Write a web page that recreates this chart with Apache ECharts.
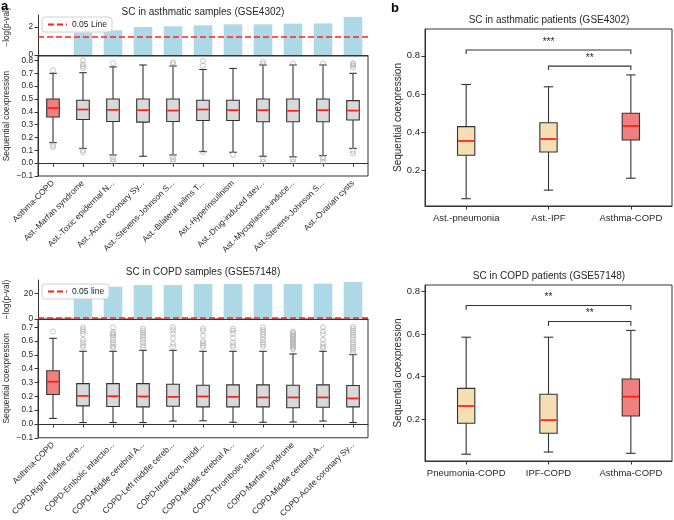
<!DOCTYPE html>
<html><head><meta charset="utf-8">
<script src="https://cdn.jsdelivr.net/npm/echarts@6/dist/echarts.min.js"></script>
<style>html,body{margin:0;padding:0;background:#fff}#c{width:674px;height:520px}</style>
</head><body><div id="c"></div>
<script>
// ---------- data ----------
const catsA1 = ['Asthma-COPD','Ast.-Marfan syndrome','Ast.-Toxic epidermal N...','Ast.-Acute coronary Sy...','Ast.-Stevens-Johnson S...','Ast.-Bilateral wilms T...','Ast.-Hyperinsulinism','Ast.-Drug-induced stev...','Ast.-Mycoplasma-induce...','Ast.-Stevens-Johnson S...','Ast.-Ovarian cysts'];
const pvalA1 = [null, 1.60, 1.76, 2.00, 2.05, 2.12, 2.19, 2.19, 2.24, 2.26, 2.73];
// [min, Q1, median, Q3, max]
const boxA1 = [
  [0.160,0.360,0.430,0.500,0.700],
  [0.115,0.340,0.418,0.490,0.705],
  [0.064,0.325,0.415,0.500,0.750],
  [0.054,0.320,0.413,0.500,0.765],
  [0.064,0.325,0.410,0.500,0.757],
  [0.090,0.333,0.418,0.490,0.730],
  [0.085,0.333,0.413,0.490,0.738],
  [0.054,0.323,0.413,0.500,0.765],
  [0.049,0.323,0.408,0.500,0.765],
  [0.059,0.323,0.413,0.500,0.765],
  [0.115,0.336,0.410,0.487,0.700]
];
const outA1 = [
  [0,0.725],[0,0.140],[0,0.125],
  [1,0.800],[1,0.770],[1,0.755],[1,0.740],[1,0.100],[1,0.085],
  [2,0.780],[2,0.050],[2,0.030],[2,0.010],
  [4,0.787],[4,0.772],[4,0.050],[4,0.030],[4,0.010],
  [5,0.797],[5,0.760],[5,0.085],
  [6,0.065],
  [7,0.790],[7,0.775],[7,0.030],[7,0.010],
  [8,0.777],[8,0.030],[8,0.010],
  [9,0.777],[9,0.045],[9,0.035],[9,0.010],
  [10,0.780],[10,0.770],[10,0.760],[10,0.745],[10,0.095],[10,0.075]
];

const catsA2 = ['Asthma-COPD','COPD-Right middle cere...','COPD-Embolic infarctio...','COPD-Middle cerebral A...','COPD-Left middle cereb...','COPD-Infarction, middl...','COPD-Middle cerebral A...','COPD-Thrombotic infarc...','COPD-Marfan syndrome','COPD-Middle cerebral A...','COPD-Acute coronary Sy...'];
const pvalA2 = [null, 25.5, 25.5, 26.8, 26.8, 27.6, 27.6, 27.6, 27.6, 27.9, 29.2];
const boxA2 = [
  [0.040,0.213,0.306,0.385,0.620],
  [0.010,0.131,0.203,0.292,0.526],
  [0.010,0.126,0.201,0.292,0.526],
  [0.010,0.124,0.199,0.292,0.533],
  [0.021,0.128,0.196,0.287,0.533],
  [0.023,0.124,0.199,0.280,0.526],
  [0.012,0.124,0.196,0.283,0.526],
  [0.012,0.124,0.192,0.283,0.526],
  [0.014,0.117,0.192,0.280,0.507],
  [0.021,0.121,0.192,0.283,0.526],
  [0.010,0.124,0.185,0.278,0.502]
];
const outA2 = [
  [0,0.670],
  [1,0.700],[1,0.685],[1,0.670],[1,0.650],[1,0.610],[1,0.590],[1,0.570],[1,0.555],
  [2,0.700],[2,0.665],[2,0.655],[2,0.645],[2,0.630],[2,0.610],[2,0.590],[2,0.575],[2,0.560],[2,0.550],
  [3,0.690],[3,0.675],[3,0.660],[3,0.645],[3,0.630],[3,0.610],[3,0.590],[3,0.570],[3,0.555],
  [4,0.700],[4,0.680],[4,0.655],[4,0.620],[4,0.580],[4,0.560],
  [5,0.690],[5,0.675],[5,0.640],[5,0.600],[5,0.585],[5,0.570],[5,0.555],
  [6,0.690],[6,0.675],[6,0.655],[6,0.620],[6,0.590],[6,0.570],[6,0.555],
  [7,0.700],[7,0.680],[7,0.665],[7,0.650],[7,0.630],[7,0.610],[7,0.590],[7,0.575],[7,0.560],
  [8,0.670],[8,0.660],[8,0.650],[8,0.640],[8,0.630],[8,0.620],[8,0.610],[8,0.600],[8,0.590],[8,0.580],[8,0.570],[8,0.560],[8,0.550],[8,0.540],
  [9,0.700],[9,0.670],[9,0.650],[9,0.610],[9,0.580],[9,0.560],[9,0.550],
  [10,0.705],[10,0.690],[10,0.675],[10,0.660],[10,0.645],[10,0.630],[10,0.610],[10,0.590],[10,0.575],[10,0.560],[10,0.545],[10,0.530],[10,0.515]
];

const catsB1 = ['Ast.-pneumonia','Ast.-IPF','Asthma-COPD'];
const boxB1 = [
  [0.053,0.280,0.355,0.430,0.650],
  [0.098,0.297,0.365,0.450,0.638],
  [0.160,0.360,0.433,0.500,0.700]
];
const sigB1 = [[0,2,0.830],[1,2,0.746]];
const sigB1Text = ['***','**'];

const catsB2 = ['Pneumonia-COPD','IPF-COPD','Asthma-COPD'];
const boxB2 = [
  [0.036,0.181,0.262,0.345,0.585],
  [0.046,0.134,0.196,0.317,0.585],
  [0.040,0.215,0.306,0.389,0.617]
];
const sigB2 = [[0,2,0.734],[1,2,0.659]];
const sigB2Text = ['**','**'];

const sigLevel = 1.3; // -log10(0.05)

const ticksA1bar = [0, 2];
const ticksA1box = [-0.1,0.0,0.1,0.2,0.3,0.4,0.5,0.6,0.7,0.8];
const ticksA2bar = [0, 20];
const ticksA2box = [-0.1,0.0,0.1,0.2,0.3,0.4,0.5,0.6,0.7];
const ticksB = [0.2,0.4,0.6,0.8];

// ---------- style ----------
const FONT = 'Liberation Sans, Arial, Helvetica, sans-serif';
const INK = '#262626';
const EDGE = '#333333';
const FSA = 8.3;   // panel a small text
const FSB = 9.5;   // panel b small text

function boxRender(cats, otherFill, widthRatio, capRatio) {
  return function (params, api) {
    const i = api.value(0);
    const pMin = api.coord([i, api.value(1)]);
    const pQ1 = api.coord([i, api.value(2)]);
    const pMed = api.coord([i, api.value(3)]);
    const pQ3 = api.coord([i, api.value(4)]);
    const pMax = api.coord([i, api.value(5)]);
    const band = api.size([1, 0])[0];
    const bw = band * widthRatio, cw = bw * capRatio;
    const x = pMed[0];
    const st = { stroke: EDGE, lineWidth: 1.1 };
    const fill = cats[i] === 'Asthma-COPD' ? '#f08080' : otherFill;
    return { type: 'group', children: [
      { type: 'line', shape: { x1: x, y1: pQ1[1], x2: x, y2: pMin[1] }, style: st },
      { type: 'line', shape: { x1: x, y1: pQ3[1], x2: x, y2: pMax[1] }, style: st },
      { type: 'line', shape: { x1: x - cw / 2, y1: pMin[1], x2: x + cw / 2, y2: pMin[1] }, style: st },
      { type: 'line', shape: { x1: x - cw / 2, y1: pMax[1], x2: x + cw / 2, y2: pMax[1] }, style: st },
      { type: 'rect', shape: { x: x - bw / 2, y: pQ3[1], width: bw, height: pQ1[1] - pQ3[1] }, style: { fill: fill, stroke: EDGE, lineWidth: 1.1 } },
      { type: 'line', shape: { x1: x - bw / 2 + 0.6, y1: pMed[1], x2: x + bw / 2 - 0.6, y2: pMed[1] }, style: { stroke: '#ff1a1a', lineWidth: 1.7 } }
    ]};
  };
}

function bracketRender(texts, drop) {
  return function (params, api) {
    const y = api.value(2);
    const a = api.coord([api.value(0), y]);
    const b = api.coord([api.value(1), y]);
    const a2 = api.coord([api.value(0), y - drop]);
    const b2 = api.coord([api.value(1), y - drop]);
    return { type: 'group', children: [
      { type: 'polyline', shape: { points: [a2, a, b, b2] }, style: { stroke: EDGE, lineWidth: 1.1, fill: null } },
      { type: 'text', x: (a[0] + b[0]) / 2, y: a[1] - 3, style: { text: texts[params.dataIndex], fill: INK, font: '10px ' + FONT, textAlign: 'center', textVerticalAlign: 'bottom' } }
    ]};
  };
}

function boxData(arr) { return arr.map((b, i) => [i].concat(b)); }

const grids = [
  { left: 38, top: 15, width: 330, height: 40 },
  { left: 38, top: 56, width: 330, height: 120, show: true, borderColor: EDGE, borderWidth: 1 },
  { left: 38, top: 280, width: 330, height: 39 },
  { left: 38, top: 319, width: 330, height: 123, show: true, borderColor: EDGE, borderWidth: 1 },
  { left: 425, top: 29, width: 247, height: 177, show: true, borderColor: EDGE, borderWidth: 1 },
  { left: 425, top: 285, width: 247, height: 176, show: true, borderColor: EDGE, borderWidth: 1 }
];

function lbl(fs) { return { color: INK, fontSize: fs, fontFamily: FONT }; }
const tick = { show: true, inside: false, length: 3.5, lineStyle: { color: EDGE, width: 1 } };

function catAxis(gi, cats, opts) {
  return Object.assign({
    type: 'category', gridIndex: gi, data: cats,
    axisLine: { show: true, lineStyle: { color: EDGE, width: 1 } },
    axisTick: Object.assign({ alignWithLabel: true }, tick),
    axisLabel: Object.assign({ interval: 0 }, lbl(FSB)),
    splitLine: { show: false }
  }, opts || {});
}
function valAxis(gi, min, max, ticks, name, gap, fs, nfs, shift) {
  return {
    type: 'value', gridIndex: gi, min: min, max: max,
    name: name, nameLocation: 'middle', nameGap: gap,
    nameTextStyle: { color: INK, fontSize: nfs, fontFamily: FONT, padding: shift ? [0, 0, 0, shift] : 0 },
    axisLine: { show: true, lineStyle: { color: EDGE, width: 1 } },
    axisTick: Object.assign({ customValues: ticks }, tick),
    axisLabel: Object.assign({ customValues: ticks, margin: 5,
      formatter: v => (Math.abs(v) < 1e-9 ? (ticks.length > 3 ? '0.0' : '0') : (Number.isInteger(v) ? String(v) : v.toFixed(1).replace('-', '\u2212'))) }, lbl(fs)),
    splitLine: { show: false }
  };
}

const xAxes = [
  catAxis(0, catsA1, { axisTick: { show: false }, axisLabel: { show: false } }),
  catAxis(1, catsA1, { axisLabel: Object.assign({ interval: 0, rotate: 45, margin: 6 }, lbl(FSA)) }),
  catAxis(2, catsA2, { axisTick: { show: false }, axisLabel: { show: false } }),
  catAxis(3, catsA2, { axisLabel: Object.assign({ interval: 0, rotate: 45, margin: 6 }, lbl(FSA)) }),
  catAxis(4, catsB1, { axisLabel: Object.assign({ interval: 0, margin: 7 }, lbl(FSB)) }),
  catAxis(5, catsB2, { axisLabel: Object.assign({ interval: 0, margin: 7 }, lbl(FSB)) })
];
const yAxes = [
  valAxis(0, 0, 2.857, ticksA1bar, '\u2212log(p-val)', 27, FSA, 8.3, 16),
  valAxis(1, -0.1, 0.835, ticksA1box, 'Sequential coexpression', 27, FSA, 8.3, 0),
  valAxis(2, 0, 30.8, ticksA2bar, '\u2212log(p-val)', 27, FSA, 8.3, 0),
  valAxis(3, -0.1, 0.76, ticksA2box, 'Sequential coexpression', 27, FSA, 8.3, 0),
  valAxis(4, 0.015, 0.94, ticksB, 'Sequential coexpression', 22, FSB, 10, 0),
  valAxis(5, 0.004, 0.83, ticksB, 'Sequential coexpression', 22, FSB, 10, 0)
];

function sigLine(name, xi) {
  return {
    type: 'line', name: name, xAxisIndex: xi, yAxisIndex: xi, data: [], symbol: 'none', z: 5,
    lineStyle: { color: '#ff2020', width: 1.5, type: [6, 3] }, itemStyle: { color: '#ff2020' },
    markLine: { silent: true, symbol: ['none', 'none'], label: { show: false },
      lineStyle: { color: '#ff2020', width: 1.5, type: [6, 3] }, data: [{ yAxis: sigLevel }] }
  };
}
function outliers(data, xi) {
  return { type: 'scatter', xAxisIndex: xi, yAxisIndex: xi, data: data, symbol: 'circle', symbolSize: 5, z: 3,
    itemStyle: { color: 'rgba(255,255,255,0)', borderColor: '#a8a8a8', borderWidth: 0.8 } };
}
function boxSeries(arr, xi, cats, fill, wr, cr) {
  return { type: 'custom', xAxisIndex: xi, yAxisIndex: xi, data: boxData(arr),
    encode: { x: 0, y: [1, 2, 3, 4, 5] }, renderItem: boxRender(cats, fill, wr, cr), z: 2 };
}
function bracketSeries(arr, texts, xi) {
  return { type: 'custom', xAxisIndex: xi, yAxisIndex: xi, data: arr,
    encode: { x: [0, 1], y: 2 }, renderItem: bracketRender(texts, 0.02), z: 4 };
}

const legendBase = {
  orient: 'horizontal', itemWidth: 19, itemHeight: 8, itemGap: 4,
  itemStyle: { opacity: 0 },
  textStyle: { color: INK, fontSize: 8.5, fontFamily: FONT },
  padding: [3, 5, 3, 5], borderColor: '#d0d0d0', borderWidth: 1, borderRadius: 3,
  backgroundColor: 'rgba(255,255,255,0.85)'
};

const titleStyle = { color: INK, fontSize: 10, fontWeight: 'normal', fontFamily: FONT };
const option = {
  animation: false,
  backgroundColor: '#fff',
  title: [
    { text: 'SC in asthmatic samples (GSE4302)', left: 203, top: 7, textAlign: 'center', padding: 0, textStyle: titleStyle },
    { text: 'SC in COPD samples (GSE57148)', left: 203, top: 267, textAlign: 'center', padding: 0, textStyle: titleStyle },
    { text: 'SC in asthmatic patients (GSE4302)', left: 549, top: 15, textAlign: 'center', padding: 0, textStyle: titleStyle },
    { text: 'SC in COPD patients (GSE57148)', left: 549, top: 271, textAlign: 'center', padding: 0, textStyle: titleStyle },
    { text: 'a', left: 1, top: 0, padding: 0, textStyle: { color: '#000', fontSize: 13, fontWeight: 'bold', fontFamily: FONT } },
    { text: 'b', left: 391, top: 2, padding: 0, textStyle: { color: '#000', fontSize: 13, fontWeight: 'bold', fontFamily: FONT } }
  ],
  legend: [
    Object.assign({ data: ['0.05 Line'], left: 42, top: 17 }, legendBase),
    Object.assign({ data: ['0.05 line'], left: 42, top: 284 }, legendBase)
  ],
  grid: grids,
  xAxis: xAxes,
  yAxis: yAxes,
  series: [
    { type: 'bar', xAxisIndex: 0, yAxisIndex: 0, data: pvalA1, barWidth: '62%', itemStyle: { color: '#add8e6' }, z: 2 },
    sigLine('0.05 Line', 0),
    boxSeries(boxA1, 1, catsA1, '#d9d9d9', 0.42, 0.6),
    outliers(outA1, 1),
    { type: 'bar', xAxisIndex: 2, yAxisIndex: 2, data: pvalA2, barWidth: '62%', itemStyle: { color: '#add8e6' }, z: 2 },
    sigLine('0.05 line', 2),
    boxSeries(boxA2, 3, catsA2, '#d9d9d9', 0.42, 0.6),
    outliers(outA2, 3),
    boxSeries(boxB1, 4, catsB1, '#f5deb3', 0.21, 0.55),
    bracketSeries(sigB1, sigB1Text, 4),
    boxSeries(boxB2, 5, catsB2, '#f5deb3', 0.21, 0.55),
    bracketSeries(sigB2, sigB2Text, 5)
  ]
};

const chart = echarts.init(document.getElementById('c'), null, { renderer: 'canvas' });
chart.setOption(option);
</script>
</body></html>
